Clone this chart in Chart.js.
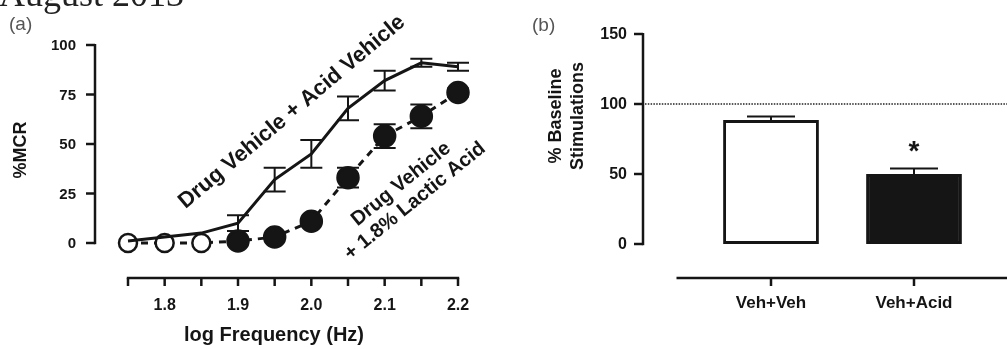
<!DOCTYPE html>
<html>
<head>
<meta charset="utf-8">
<script src="https://cdn.jsdelivr.net/npm/chart.js@4/dist/chart.umd.min.js"></script>
<style>
  html, body { margin: 0; padding: 0; background: #fff; }
  #wrap { position: relative; width: 1007px; height: 349px; overflow: hidden; }
  .panel { position: absolute; top: 0; height: 349px; }
  #pa { left: 0; width: 520px; }
  #pb { left: 500px; width: 507px; }
</style>
</head>
<body>
<div id="wrap">
  <div class="panel" id="pa"><canvas id="ca"></canvas></div>
  <div class="panel" id="pb"><canvas id="cb"></canvas></div>
</div>
<script>
// ---------- Panel (a) data ----------
const logFreq      = [1.75, 1.80, 1.85, 1.90, 1.95, 2.00, 2.05, 2.10, 2.15, 2.20];
const vehicleMean  = [1, 3, 5, 10, 32, 45, 68, 82, 91, 89];
const vehicleSem   = [0, 0, 0, 4, 6, 7, 6, 5, 2, 2];
const lacticMean   = [0, 0, 0, 1, 3, 11, 33, 54, 64, 76];
const lacticSem    = [0, 0, 0, 0, 0, 0, 5, 6, 6, 2];
const xTickValuesA = [1.75, 1.80, 1.85, 1.90, 1.95, 2.00, 2.05, 2.10, 2.15, 2.20];
const xLabelValuesA = [1.8, 1.9, 2.0, 2.1, 2.2];
const xLabelTextA   = ['1.8', '1.9', '2.0', '2.1', '2.2'];
const yTickValuesA  = [0, 25, 50, 75, 100];

// ---------- Panel (b) data ----------
const groups       = ['Veh+Veh', 'Veh+Acid'];
const baselinePct  = [88.5, 50];
const baselineSem  = [2.5, 4];
const yTickValuesB = [0, 50, 100, 150];
const referenceLevel = 100;

const FONT = '"Liberation Sans", Arial, sans-serif';
const INK = '#151515';

function rotatedText(ctx, text, cx, cy, deg) {
  ctx.save();
  ctx.translate(cx, cy); ctx.rotate(deg * Math.PI / 180);
  ctx.fillText(text, 0, 0);
  ctx.restore();
}

const axesA = {
  id: 'axesA',
  afterDraw(chart) {
    const ctx = chart.ctx, x = chart.scales.x, y = chart.scales.y, a = chart.chartArea;
    ctx.save();
    // title fragment
    ctx.fillStyle = '#222';
    ctx.font = '36px "Liberation Serif", "DejaVu Serif", serif';
    ctx.textAlign = 'left'; ctx.textBaseline = 'alphabetic';
    ctx.fillText('August 2013', -1, 6);
    // panel letter
    ctx.fillStyle = '#555';
    ctx.font = '19px ' + FONT;
    ctx.fillText('(a)', 9, 30);

    ctx.strokeStyle = INK; ctx.lineWidth = 2.5; ctx.lineCap = 'butt';
    // y axis (offset)
    const yx = a.left - 33;
    ctx.beginPath();
    ctx.moveTo(yx, y.getPixelForValue(100) - 1);
    ctx.lineTo(yx, y.getPixelForValue(0) + 1.2);
    ctx.stroke();
    ctx.font = 'bold 15px ' + FONT;
    ctx.fillStyle = INK; ctx.textAlign = 'right'; ctx.textBaseline = 'middle';
    yTickValuesA.forEach(v => {
      const py = y.getPixelForValue(v);
      ctx.beginPath(); ctx.moveTo(yx - 9, py); ctx.lineTo(yx, py); ctx.stroke();
      ctx.fillText(String(v), yx - 19, py + 1);
    });
    // x axis (offset)
    const xy = a.bottom + 35;
    ctx.beginPath();
    ctx.moveTo(x.getPixelForValue(1.75) - 1.2, xy);
    ctx.lineTo(x.getPixelForValue(2.2) + 1.2, xy);
    ctx.stroke();
    xTickValuesA.forEach(v => {
      const px = x.getPixelForValue(v);
      ctx.beginPath(); ctx.moveTo(px, xy); ctx.lineTo(px, xy + 8); ctx.stroke();
    });
    ctx.textAlign = 'center';
    ctx.font = 'bold 16px ' + FONT;
    xLabelValuesA.forEach((v, i) => ctx.fillText(xLabelTextA[i], x.getPixelForValue(v), xy + 28));
    ctx.font = 'bold 20px ' + FONT;
    ctx.fillText('log Frequency (Hz)', 274, xy + 57);
    // y title
    ctx.font = 'bold 18px ' + FONT;
    rotatedText(ctx, '%MCR', 21, 150, -90);
    // curve annotations
    ctx.font = 'bold 22px ' + FONT;
    rotatedText(ctx, 'Drug Vehicle + Acid Vehicle', 292, 112, -40);
    ctx.font = 'bold 20px ' + FONT;
    rotatedText(ctx, 'Drug Vehicle', 401, 184, -39);
    rotatedText(ctx, '+ 1.8% Lactic Acid', 415, 201, -39);
    ctx.restore();
  },
  beforeDatasetsDraw(chart) {
    // error bars (drawn under the markers)
    const ctx = chart.ctx, x = chart.scales.x, y = chart.scales.y;
    ctx.save();
    ctx.strokeStyle = INK; ctx.lineWidth = 2;
    const draw = (means, sems) => means.forEach((m, i) => {
      const s = sems[i]; if (!s) return;
      const px = x.getPixelForValue(logFreq[i]);
      const t = y.getPixelForValue(m + s), b = y.getPixelForValue(m - s);
      ctx.beginPath();
      ctx.moveTo(px, t); ctx.lineTo(px, b);
      ctx.moveTo(px - 11, t); ctx.lineTo(px + 11, t);
      ctx.moveTo(px - 11, b); ctx.lineTo(px + 11, b);
      ctx.stroke();
    });
    draw(vehicleMean, vehicleSem);
    draw(lacticMean, lacticSem);
    ctx.restore();
  }
};

new Chart(document.getElementById('ca'), {
  type: 'line',
  data: {
    datasets: [
      {
        label: 'Drug Vehicle + Acid Vehicle',
        data: logFreq.map((f, i) => ({ x: f, y: vehicleMean[i] })),
        borderColor: INK, borderWidth: 3, pointRadius: 0,
        tension: 0, clip: false, order: 0
      },
      {
        label: 'Drug Vehicle + 1.8% Lactic Acid',
        data: logFreq.map((f, i) => ({ x: f, y: lacticMean[i] })),
        borderColor: INK, borderWidth: 3, borderDash: [7, 6],
        pointRadius: ctx => ctx.dataIndex < 3 ? 9 : 10.5,
        pointBorderWidth: 2.5,
        pointBorderColor: INK,
        pointBackgroundColor: ctx => ctx.dataIndex < 3 ? '#fff' : INK,
        tension: 0, clip: false, order: 1
      }
    ]
  },
  options: {
    responsive: true, maintainAspectRatio: false, animation: false,
    layout: { padding: { left: 128, right: 62, top: 45, bottom: 106 } },
    plugins: { legend: { display: false }, tooltip: { enabled: false } },
    scales: {
      x: { type: 'linear', min: 1.75, max: 2.2, display: false },
      y: { type: 'linear', min: 0, max: 100, display: false }
    }
  },
  plugins: [axesA]
});

const axesB = {
  id: 'axesB',
  afterDatasetsDraw(chart) {
    const ctx = chart.ctx, x = chart.scales.x, y = chart.scales.y, a = chart.chartArea;
    ctx.save();
    ctx.fillStyle = '#555';
    ctx.font = '19px ' + FONT;
    ctx.textAlign = 'left'; ctx.textBaseline = 'alphabetic';
    ctx.fillText('(b)', 32, 31);

    ctx.strokeStyle = INK; ctx.lineWidth = 2;
    // error bars (upper only)
    const meta = chart.getDatasetMeta(0);
    baselinePct.forEach((m, i) => {
      const px = meta.data[i].x;
      const top = y.getPixelForValue(m + baselineSem[i]);
      ctx.beginPath();
      ctx.moveTo(px, y.getPixelForValue(m)); ctx.lineTo(px, top);
      ctx.moveTo(px - 24, top); ctx.lineTo(px + 24, top);
      ctx.stroke();
    });
    // significance star
    ctx.fillStyle = INK;
    ctx.font = 'bold 28px ' + FONT;
    ctx.textAlign = 'center'; ctx.textBaseline = 'middle';
    ctx.fillText('*', meta.data[1].x, y.getPixelForValue(baselinePct[1] + baselineSem[1]) - 16);

    // y axis (offset)
    const yx = a.left - 56.5;
    ctx.lineWidth = 2.5;
    ctx.beginPath();
    ctx.moveTo(yx, y.getPixelForValue(150) - 1);
    ctx.lineTo(yx, y.getPixelForValue(0) + 1.2);
    ctx.stroke();
    ctx.font = 'bold 16px ' + FONT;
    ctx.textAlign = 'right';
    yTickValuesB.forEach(v => {
      const py = y.getPixelForValue(v);
      ctx.beginPath(); ctx.moveTo(yx - 9, py); ctx.lineTo(yx, py); ctx.stroke();
      ctx.fillText(String(v), yx - 16, py + 1);
    });
    // dotted reference line
    ctx.save();
    ctx.strokeStyle = '#222'; ctx.lineWidth = 1.6; ctx.setLineDash([1.5, 1.3]);
    const ry = y.getPixelForValue(referenceLevel);
    ctx.beginPath(); ctx.moveTo(yx + 2, ry); ctx.lineTo(chart.width, ry); ctx.stroke();
    ctx.restore();
    // x axis (offset)
    const xy = a.bottom + 34;
    ctx.beginPath(); ctx.moveTo(a.left - 23, xy); ctx.lineTo(chart.width, xy); ctx.stroke();
    ctx.textAlign = 'center';
    ctx.font = 'bold 17px ' + FONT;
    groups.forEach((g, i) => {
      const px = x.getPixelForValue(i);
      ctx.beginPath(); ctx.moveTo(px, xy); ctx.lineTo(px, xy + 8); ctx.stroke();
      ctx.fillText(g, px, xy + 25);
    });
    // y title
    ctx.save();
    ctx.translate(56, 116); ctx.rotate(-Math.PI / 2);
    ctx.font = 'bold 18px ' + FONT;
    ctx.fillText('% Baseline', 0, 0);
    ctx.fillText('Stimulations', 0, 22);
    ctx.restore();
    ctx.restore();
  }
};

new Chart(document.getElementById('cb'), {
  type: 'bar',
  data: {
    labels: groups,
    datasets: [{
      label: '% Baseline Stimulations',
      data: baselinePct,
      backgroundColor: ['#ffffff', INK],
      borderColor: INK, borderWidth: 3, borderSkipped: false,
      categoryPercentage: 1, barPercentage: 0.67
    }]
  },
  options: {
    responsive: true, maintainAspectRatio: false, animation: false,
    layout: { padding: { left: 199.5, right: 21.5, top: 34, bottom: 105 } },
    plugins: { legend: { display: false }, tooltip: { enabled: false } },
    scales: {
      x: { type: 'category', display: false, offset: true },
      y: { type: 'linear', min: 0, max: 150, display: false }
    }
  },
  plugins: [axesB]
});
</script>
</body>
</html>
